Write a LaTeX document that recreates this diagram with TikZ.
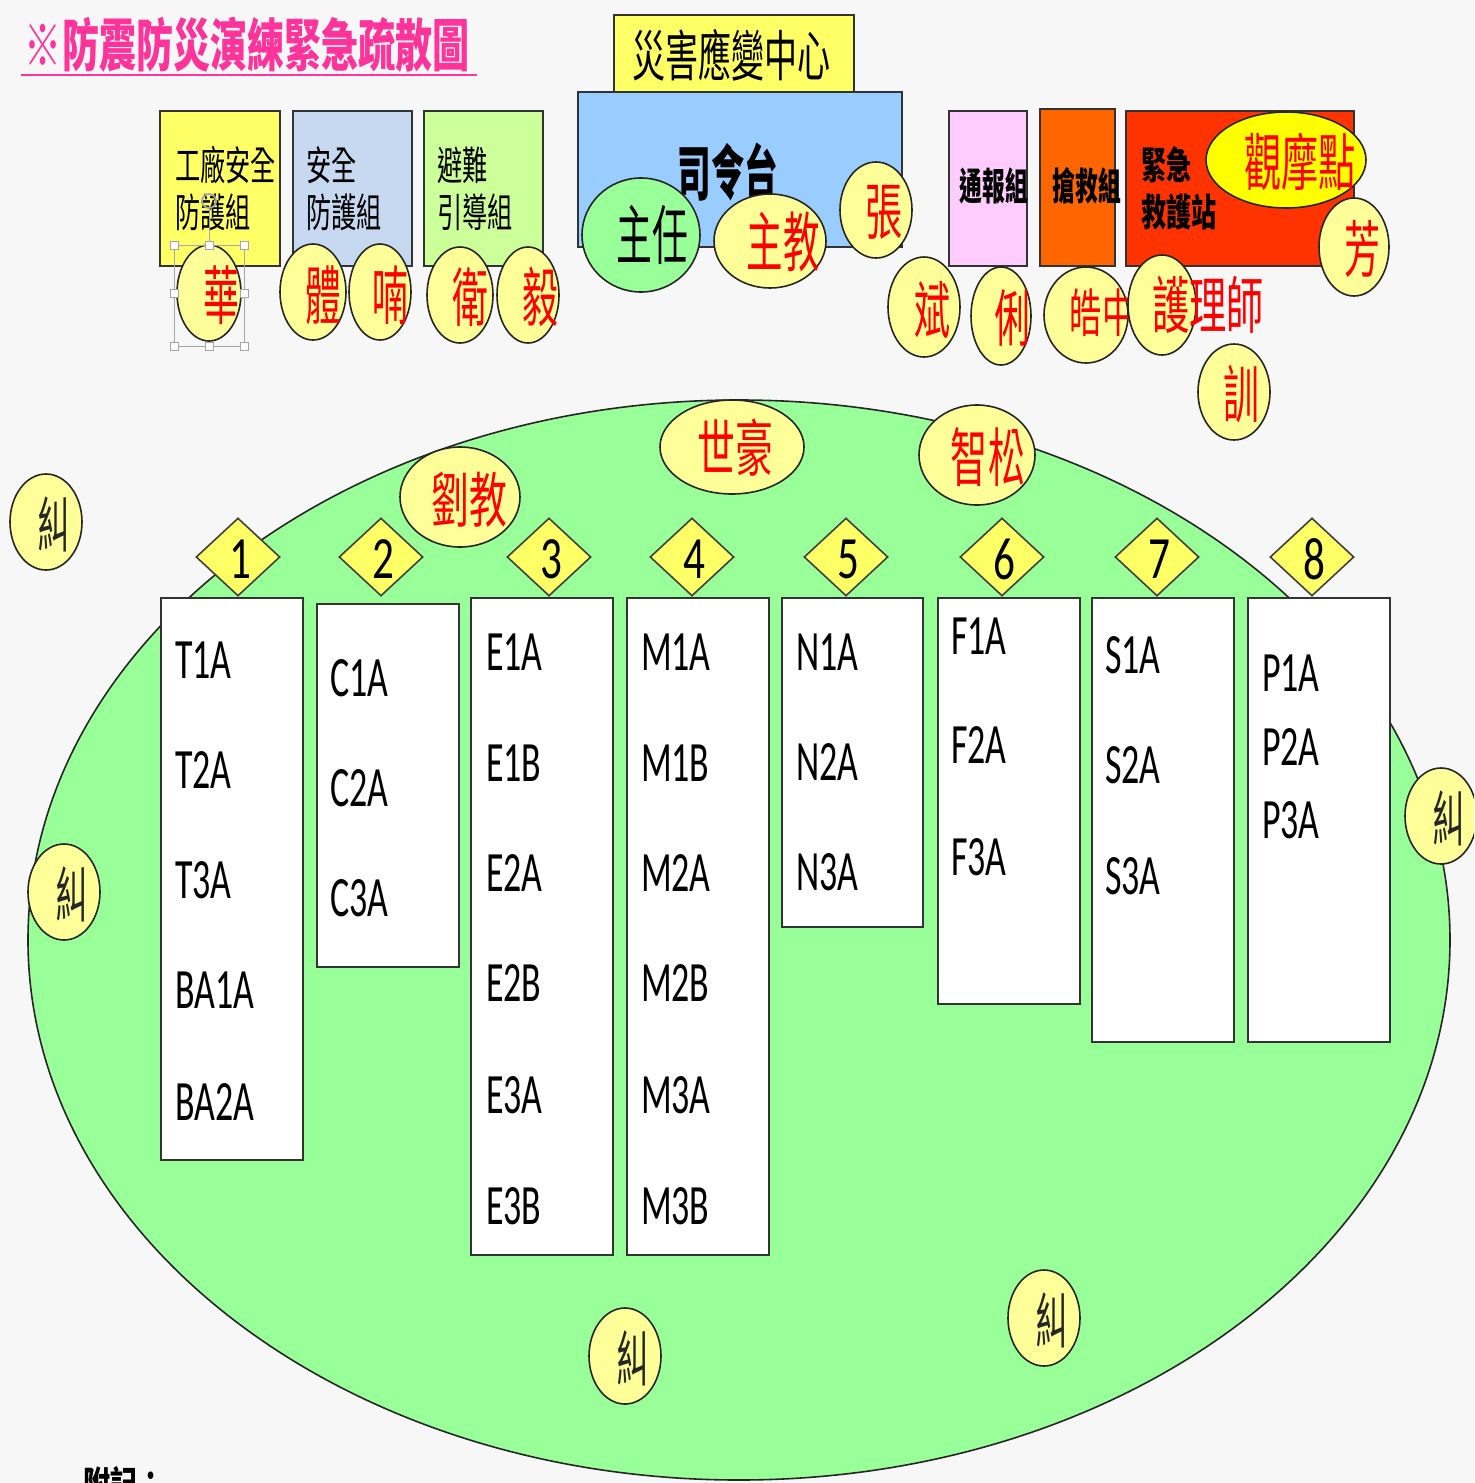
\documentclass[tikz,border=0pt]{standalone}
\usepackage{fontspec}
\usepackage{graphicx}
\setmainfont{Carlito}
\newfontfamily\cjk{Noto Sans CJK TC}
\usetikzlibrary{shapes.geometric}
\definecolor{bgc}{HTML}{F7F7F7}
\definecolor{cyel}{HTML}{FFFF99}
\definecolor{dyel}{HTML}{FFFF66}
\definecolor{byel}{HTML}{FFFF66}
\definecolor{cblue}{HTML}{99CCFF}
\definecolor{lblue}{HTML}{C6D9F1}
\definecolor{lgreen}{HTML}{CCFF99}
\definecolor{cgreen}{HTML}{99FF99}
\definecolor{cpink}{HTML}{FFCCFF}
\definecolor{corange}{HTML}{FF6600}
\definecolor{cred2}{HTML}{FF3300}
\definecolor{gyel}{HTML}{FFFF00}
\definecolor{cred}{HTML}{FF0000}
\definecolor{tpink}{HTML}{FF3399}
\newcommand{\mytx}[3]{{\fontsize{#1}{#1}\selectfont\scalebox{#2}[1]{#3}}}
\begin{document}
\begin{tikzpicture}[x=0.5pt,y=-0.5pt,
 bx/.style={draw=black!80, line width=0.8pt, rectangle, inner sep=0, anchor=north west},
 wh/.style 2 args={minimum width=#1*0.5pt, minimum height=#2*0.5pt},
 bub/.style={ellipse, draw=black!85, line width=0.8pt, fill=cyel, inner sep=0},
 dia/.style={diamond, draw=black!75, line width=0.8pt, fill=dyel, inner sep=0, minimum width=42pt, minimum height=39pt},
 tx/.style={inner sep=0, outer sep=0},
 rtx/.style={tx, text=cred},
 lab/.style={tx, anchor=west, font=\fontsize{28.5pt}{28.5pt}\selectfont},
 hdl/.style={draw=gray!70, fill=white, line width=0.5pt, minimum size=4pt, inner sep=0, rectangle}]
\path[use as bounding box] (0,0) rectangle (1474,1483);
\clip (0,0) rectangle (1474,1483);
\fill[bgc] (0,0) rectangle (1474,1483);

% title
\node[tx, anchor=west, text=tpink] (title) at (25,45) {\mytx{28.5pt}{0.65}{\cjk\bfseries ※防震防災演練緊急疏散圖}};
\coordinate (ul1) at (21,75);
\coordinate (ul2) at (477,75);
\draw[tpink, line width=1.2pt] (ul1) -- (ul2);

% field
\node[ellipse, draw=black!85, line width=0.8pt, fill=cgreen, wh={1422}{1080}] (field) at (739,940) {};

% top center
\node[bx, fill=byel, wh={240}{77}] (center) at (613,14) {};
\node[tx] (centert) at (731,55) {\mytx{27.5pt}{0.6}{\cjk 災害應變中心}};
\node[bx, fill=cblue, wh={324}{155}] (stage) at (577,91) {};
\node[tx] (staget) at (728,172) {\mytx{30pt}{0.56}{\cjk\bfseries 司令台}};

% left boxes
\node[bx, fill=byel, wh={120}{155}] (g1) at (159,110) {};
\node[tx, anchor=west] (g1a) at (175,165) {\mytx{20pt}{0.63}{\cjk 工廠安全}};
\node[tx, anchor=west] (g1b) at (175,212) {\mytx{20pt}{0.63}{\cjk 防護組}};
\node[bx, fill=lblue, wh={119}{155}] (g2) at (292,110) {};
\node[tx, anchor=west] (g2a) at (306,165) {\mytx{20pt}{0.63}{\cjk 安全}};
\node[tx, anchor=west] (g2b) at (306,212) {\mytx{20pt}{0.63}{\cjk 防護組}};
\node[bx, fill=lgreen, wh={119}{155}] (g3) at (423,110) {};
\node[tx, anchor=west] (g3a) at (437,165) {\mytx{20pt}{0.63}{\cjk 避難}};
\node[tx, anchor=west] (g3b) at (437,212) {\mytx{20pt}{0.63}{\cjk 引導組}};

% right boxes
\node[bx, fill=cpink, wh={78}{155}] (g4) at (948,110) {};
\node[tx] (g4t) at (994,186) {\mytx{19pt}{0.6}{\cjk\bfseries 通報組}};
\node[bx, fill=corange, wh={75}{157}] (g5) at (1039,108) {};
\node[tx] (g5t) at (1087,186) {\mytx{19pt}{0.6}{\cjk\bfseries 搶救組}};
\node[bx, fill=cred2, wh={228}{155}] (g6) at (1125,110) {};
\node[tx, anchor=west] (g6a) at (1141,165) {\mytx{19pt}{0.66}{\cjk\bfseries 緊急}};
\node[tx, anchor=west] (g6b) at (1141,212) {\mytx{19pt}{0.66}{\cjk\bfseries 救護站}};
\node[bub, fill=gyel, wh={160}{96}] (obs) at (1286,160) {};
\node[rtx] (obst) at (1300,162) {\mytx{31pt}{0.6}{\cjk 觀摩點}};

% bubbles top-left
\node[bub, wh={64}{96}] (hua) at (209,293) {};
\node[rtx] (huat) at (221,295) {\mytx{32pt}{0.56}{\cjk 華}};
\node[bub, wh={66}{96}] (ti) at (313,292) {};
\node[rtx] (tit) at (323,295) {\mytx{32pt}{0.56}{\cjk 體}};
\node[bub, wh={62}{96}] (nan) at (380,292) {};
\node[rtx] (nant) at (390,295) {\mytx{32pt}{0.56}{\cjk 喃}};
\node[bub, wh={66}{96}] (wei) at (460,295) {};
\node[rtx] (weit) at (470,297) {\mytx{32pt}{0.56}{\cjk 衛}};
\node[bub, wh={62}{96}] (yi) at (528,295) {};
\node[rtx] (yit) at (540,297) {\mytx{32pt}{0.56}{\cjk 毅}};

% selection handles around hua
\draw[gray!70, line width=0.5pt] (174,245) rectangle (244,346);
\node[hdl] (h1) at (174,245) {};
\node[hdl] (h2) at (209,245) {};
\node[hdl] (h3) at (244,245) {};
\node[hdl] (h4) at (174,293) {};
\node[hdl] (h5) at (244,293) {};
\node[hdl] (h6) at (174,346) {};
\node[hdl] (h7) at (209,346) {};
\node[hdl] (h8) at (244,346) {};
\node[circle, draw=gray!70, line width=0.9pt, minimum size=7pt, inner sep=0] (rot) at (209,201) {};
\draw[gray!70, line width=0.5pt] (rot) -- (h2);

% stage bubbles
\node[bub, fill=cgreen, wh={118}{114}] (zhuren) at (641,235) {};
\node[tx] (zhurent) at (652,235) {\mytx{32.5pt}{0.55}{\cjk 主任}};
\node[bub, wh={112}{94}] (zhujiao) at (770,241) {};
\node[rtx] (zhujiaot) at (783,242) {\mytx{32.5pt}{0.56}{\cjk 主教}};
\node[bub, wh={72}{96}] (zhang) at (876,210) {};
\node[rtx] (zhangt) at (884,212) {\mytx{31pt}{0.6}{\cjk 張}};

% right bubbles
\node[bub, wh={72}{100}] (bin) at (924,307) {};
\node[rtx] (bint) at (932,310) {\mytx{31pt}{0.58}{\cjk 斌}};
\node[bub, wh={60}{98}] (li) at (1001,316) {};
\node[rtx] (lit) at (1012,318) {\mytx{31pt}{0.58}{\cjk 俐}};
\node[bub, wh={84}{96}] (hao) at (1086,315) {};
\node[rtx] (haot) at (1102,313) {\mytx{26pt}{0.62}{\cjk 皓中}};
\node[bub, wh={68}{100}] (nurse) at (1162,305) {};
\node[rtx] (nurset) at (1208,305) {\mytx{31pt}{0.6}{\cjk 護理師}};
\node[bub, wh={70}{98}] (fang) at (1354,247) {};
\node[rtx] (fangt) at (1362,249) {\mytx{31pt}{0.58}{\cjk 芳}};
\node[bub, wh={72}{96}] (xun) at (1234,392) {};
\node[rtx] (xunt) at (1241,394) {\mytx{31pt}{0.58}{\cjk 訓}};

% field bubbles
\node[bub, wh={120}{100}] (liu) at (460,497) {};
\node[rtx] (liut) at (469,500) {\mytx{30pt}{0.63}{\cjk 劉教}};
\node[bub, wh={144}{94}] (shihao) at (732,447) {};
\node[rtx] (shihaot) at (735,448) {\mytx{31pt}{0.61}{\cjk 世豪}};
\node[bub, wh={116}{100}] (zhisong) at (977,455) {};
\node[rtx] (zhisongt) at (988,457) {\mytx{32pt}{0.58}{\cjk 智松}};

% jiu bubbles
\foreach \n/\x/\y in {j1/46/522, j2/64/892, j3/1441/816, j4/625/1356, j5/1044/1318}{
  \node[bub, wh={72}{96}] (\n) at (\x,\y) {};
  \node[tx, text=black!85] (\n t) at (\x+8,\y+2) {\mytx{30pt}{0.55}{\cjk 糾}};
}

% class boxes
\node[bx, fill=white, wh={142}{562}] (bT) at (160,597) {};
\node[bx, fill=white, wh={142}{363}] (bC) at (316,603) {};
\node[bx, fill=white, wh={142}{657}] (bE) at (470,597) {};
\node[bx, fill=white, wh={142}{657}] (bM) at (626,597) {};
\node[bx, fill=white, wh={141}{329}] (bN) at (781,597) {};
\node[bx, fill=white, wh={142}{406}] (bF) at (937,597) {};
\node[bx, fill=white, wh={142}{444}] (bS) at (1091,597) {};
\node[bx, fill=white, wh={142}{444}] (bP) at (1247,597) {};

\foreach \t/\y in {T1A/660, T2A/770, T3A/880, BA1A/990, BA2A/1102}
  \node[lab] (l\t) at (175,\y) {\scalebox{0.63}[1]{\t}};
\foreach \t/\y in {C1A/678, C2A/788, C3A/898}
  \node[lab] (l\t) at (330,\y) {\scalebox{0.63}[1]{\t}};
\foreach \t/\y in {E1A/652, E1B/763, E2A/873, E2B/983, E3A/1095, E3B/1206}
  \node[lab] (l\t) at (486,\y) {\scalebox{0.63}[1]{\t}};
\foreach \t/\y in {M1A/652, M1B/763, M2A/873, M2B/983, M3A/1095, M3B/1206}
  \node[lab] (l\t) at (641,\y) {\scalebox{0.63}[1]{\t}};
\foreach \t/\y in {N1A/652, N2A/762, N3A/872}
  \node[lab] (l\t) at (796,\y) {\scalebox{0.63}[1]{\t}};
\foreach \t/\y in {F1A/636, F2A/745, F3A/857}
  \node[lab] (l\t) at (951,\y) {\scalebox{0.63}[1]{\t}};
\foreach \t/\y in {S1A/655, S2A/765, S3A/876}
  \node[lab] (l\t) at (1105,\y) {\scalebox{0.63}[1]{\t}};
\foreach \t/\y in {P1A/673, P2A/747, P3A/820}
  \node[lab] (l\t) at (1262,\y) {\scalebox{0.63}[1]{\t}};

% diamonds
\foreach \k/\x in {1/238, 2/381, 3/549, 4/692, 5/846, 6/1002, 7/1157, 8/1312}{
  \node[dia] (d\k) at (\x,557) {};
  \node[tx] (d\k t) at (\x+2,559) {\mytx{30pt}{0.72}{\k}};
}

% note
\node[tx, anchor=north west] (note) at (83,1466) {\mytx{18pt}{0.75}{\cjk\bfseries 附記：}};
\end{tikzpicture}
\end{document}
